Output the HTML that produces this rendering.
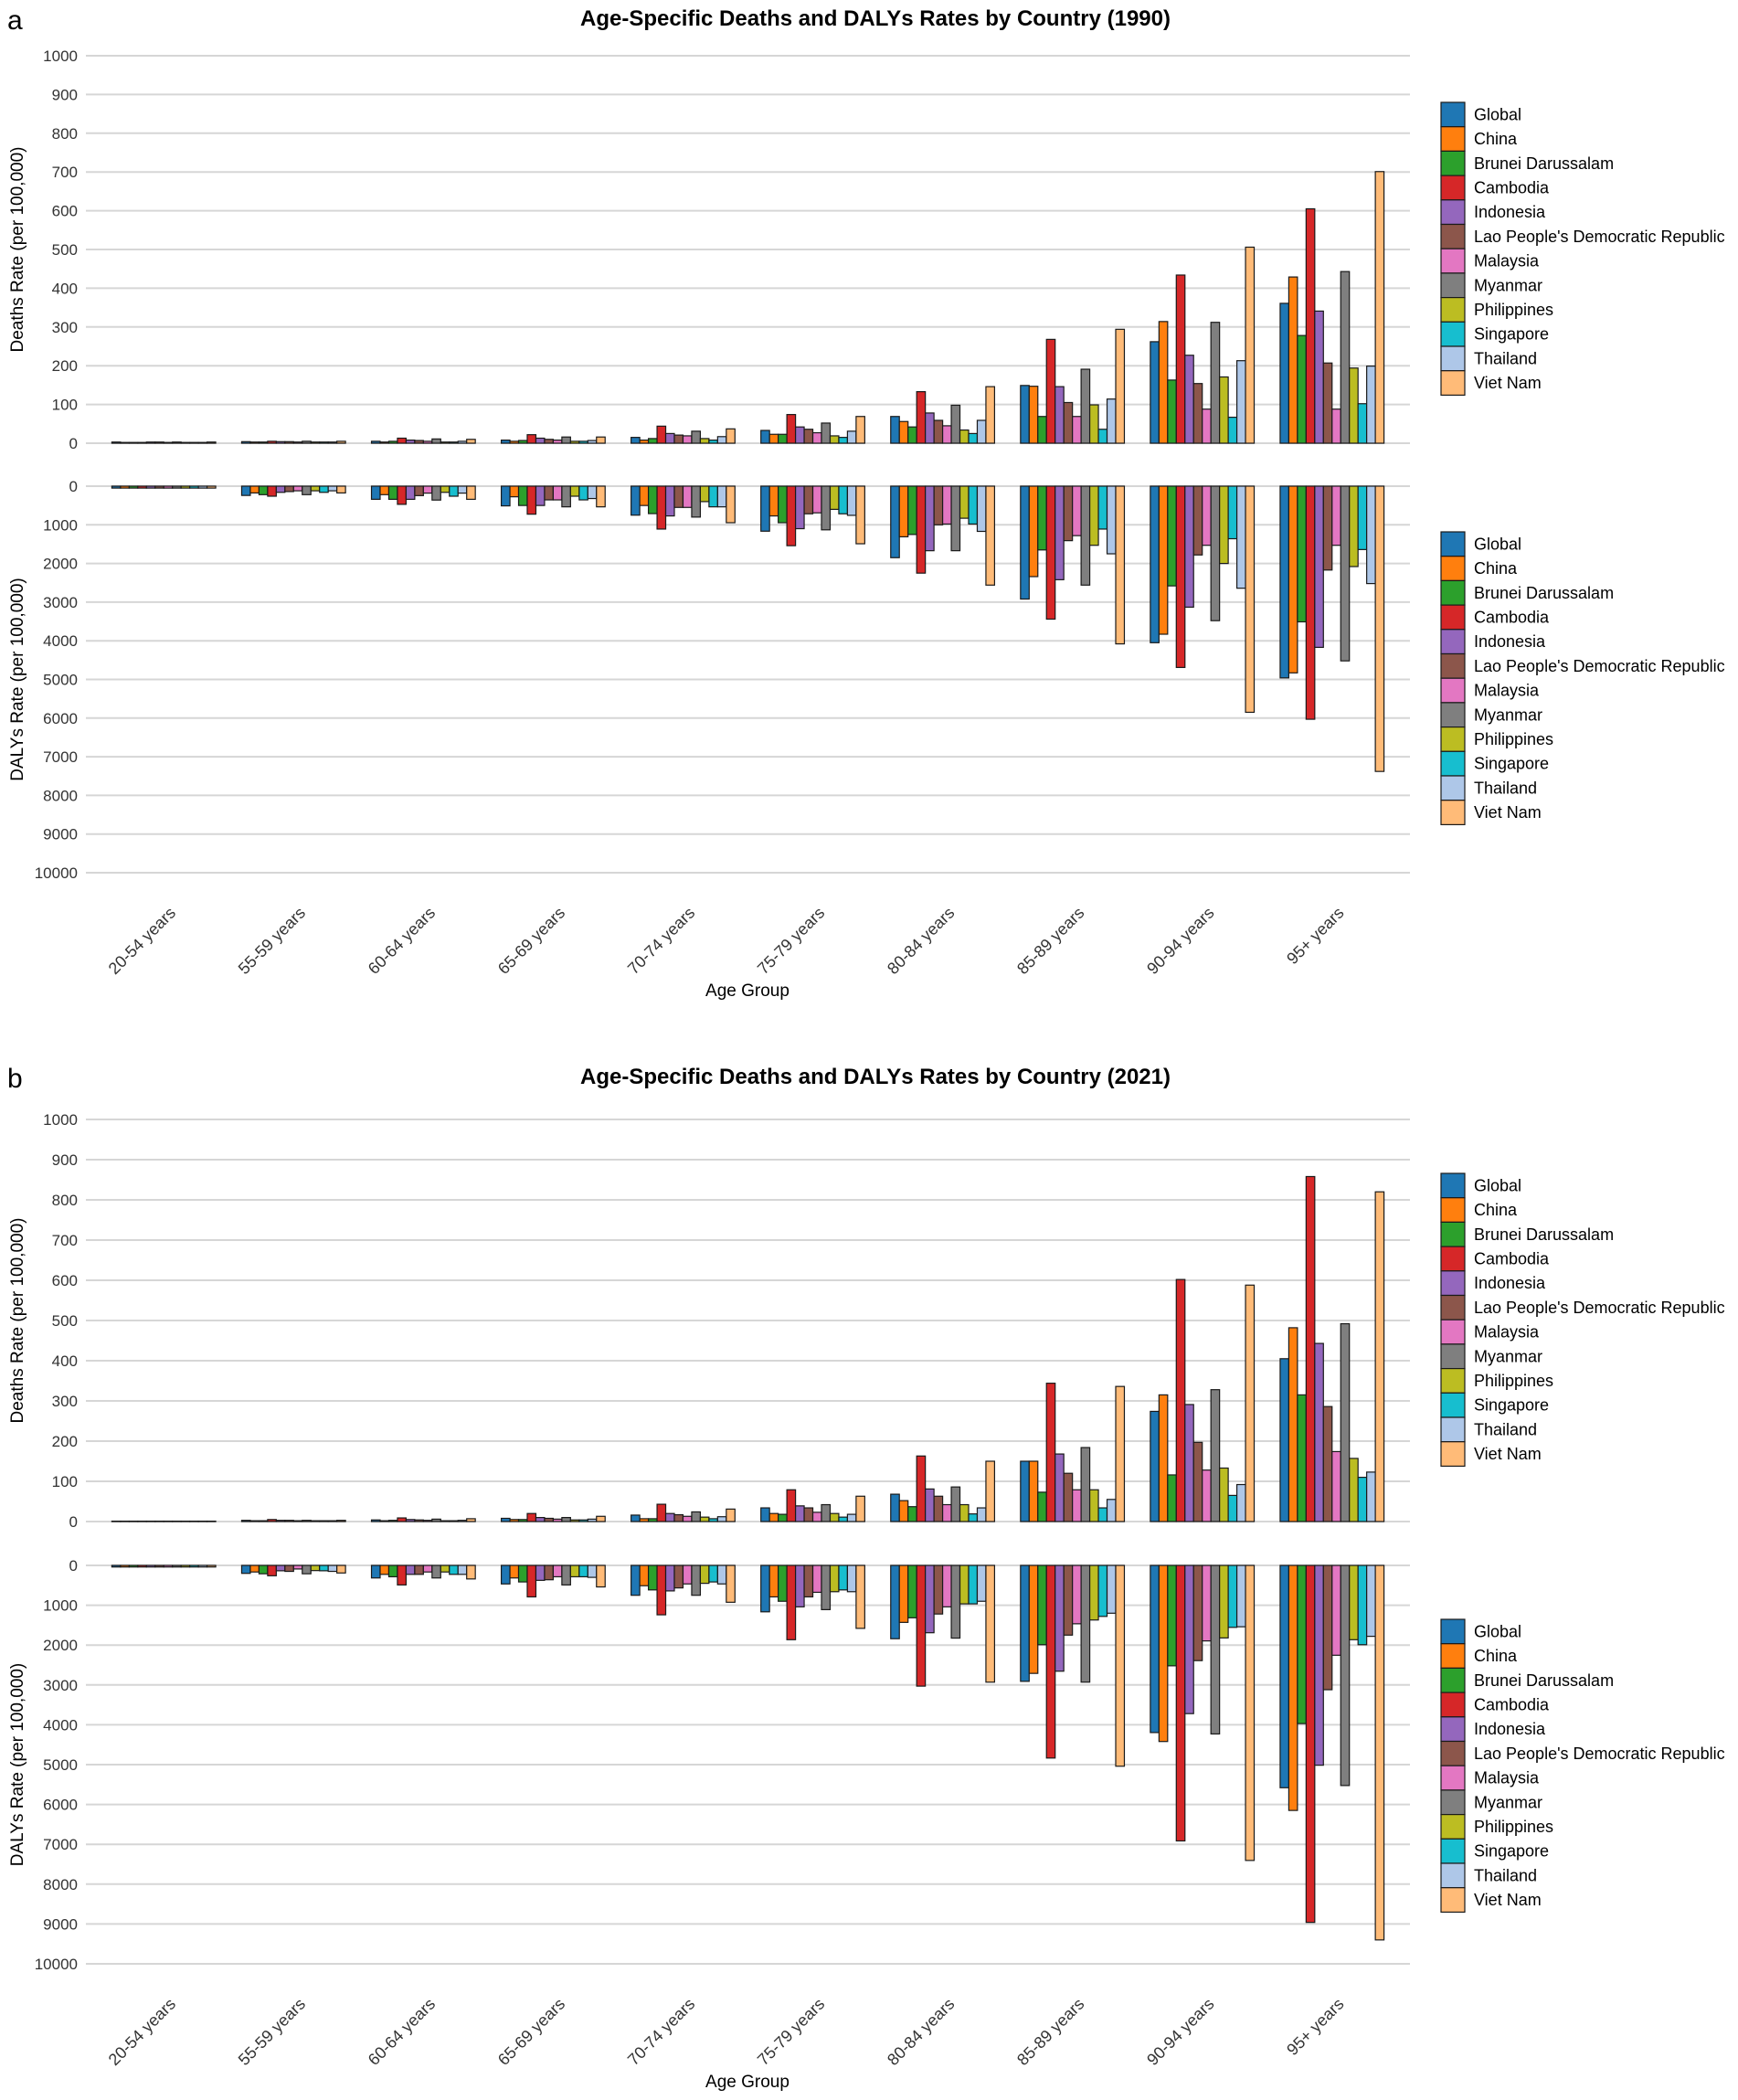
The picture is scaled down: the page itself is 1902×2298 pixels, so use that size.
<!DOCTYPE html>
<html><head><meta charset="utf-8"><style>
html,body{margin:0;padding:0;background:#fff;}
svg{display:block;font-family:"Liberation Sans",Arial,sans-serif;}
</style></head>
<body>
<svg id="chart" width="1902" height="2298" viewBox="0 0 1902 2298" xmlns="http://www.w3.org/2000/svg">
<rect width="1902" height="2298" fill="#fff"/>
</svg>
<script>
const ageGroups = ["20-54 years","55-59 years","60-64 years","65-69 years","70-74 years","75-79 years","80-84 years","85-89 years","90-94 years","95+ years"];
const countries = ["Global","China","Brunei Darussalam","Cambodia","Indonesia","Lao People's Democratic Republic","Malaysia","Myanmar","Philippines","Singapore","Thailand","Viet Nam"];
const colors = ["#1f77b4","#ff7f0e","#2ca02c","#d62728","#9467bd","#8c564b","#e377c2","#7f7f7f","#bcbd22","#17becf","#aec7e8","#ffbb78"];
const deathTicks = [0,100,200,300,400,500,600,700,800,900,1000];
const dalyTicks = [0,1000,2000,3000,4000,5000,6000,7000,8000,9000,10000];

// rows = age groups, cols = countries
const deaths1990 = [
 [3,2,2,2,3,3,2,3,2,2,2,3],
 [4,3,3,5,4,4,3,5,3,3,3,5],
 [5,3,5,13,8,7,5,11,3,3,5,10],
 [8,5,7,22,13,10,8,16,5,5,7,16],
 [15,8,12,44,25,21,19,31,12,8,17,37],
 [33,23,23,74,42,36,27,52,19,15,31,69],
 [69,56,42,133,78,59,45,98,34,25,59,146],
 [149,147,69,268,146,105,69,191,99,36,114,294],
 [262,314,163,434,227,154,88,312,171,67,213,506],
 [361,429,278,605,341,207,88,443,194,102,199,701]
];
const dalys1990 = [
 [50,50,50,50,50,50,50,50,50,50,50,50],
 [240,175,220,260,160,140,120,220,120,160,120,175],
 [340,220,340,470,340,245,180,360,160,260,180,340],
 [510,275,500,725,500,355,355,535,260,355,320,535],
 [750,500,710,1110,770,550,550,800,400,535,535,945],
 [1165,770,945,1540,1100,715,690,1130,600,715,755,1490],
 [1850,1310,1250,2250,1670,1000,980,1670,830,980,1170,2560],
 [2920,2340,1650,3440,2420,1410,1280,2560,1530,1110,1750,4080],
 [4050,3830,2580,4690,3130,1780,1530,3480,2000,1360,2640,5850],
 [4960,4830,3510,6030,4170,2170,1530,4520,2080,1640,2520,7380]
];
const deaths2021 = [
 [1,1,1,1,1,1,1,1,1,1,1,1],
 [3,2,2,5,3,3,2,3,2,2,2,3],
 [4,2,3,9,5,4,3,6,2,2,3,7],
 [8,5,5,20,10,8,6,10,4,4,6,13],
 [16,7,7,43,20,17,13,24,11,7,12,31],
 [34,20,18,79,39,34,23,42,20,11,18,63],
 [68,52,37,163,81,63,42,86,42,19,34,150],
 [150,150,73,344,168,120,79,184,79,34,55,336],
 [274,315,116,602,291,197,128,328,133,65,92,588],
 [405,482,315,858,443,286,174,492,157,110,123,820]
];
const dalys2021 = [
 [40,40,40,40,40,40,40,40,40,40,40,40],
 [200,165,210,260,135,150,90,210,130,135,150,190],
 [315,225,285,490,225,225,165,315,165,225,225,340],
 [465,315,415,790,375,360,285,490,285,285,300,540],
 [750,510,615,1240,640,565,465,750,450,415,465,925],
 [1165,790,900,1865,1040,790,675,1110,660,615,660,1580],
 [1840,1430,1315,3030,1690,1220,1040,1825,965,965,900,2930],
 [2910,2710,1990,4835,2655,1750,1465,2930,1370,1280,1200,5040],
 [4195,4420,2520,6915,3720,2390,1895,4230,1820,1555,1540,7405],
 [5580,6150,3970,8960,5015,3120,2255,5525,1865,1990,1780,9400]
];

const NS = "http://www.w3.org/2000/svg";
const svg = document.getElementById("chart");
function mk(tag, attrs, parent){
  const e = document.createElementNS(NS, tag);
  for (const k in attrs) e.setAttribute(k, attrs[k]);
  (parent||svg).appendChild(e);
  return e;
}
const X0 = 94, X1 = 1543;
const step = (X1 - X0) / (ageGroups.length - 1 + 1.2);
function xCenter(i){ return X0 + step * (0.6 + i); }
const groupW = step * 0.8, barW = groupW / countries.length;

function drawPanel(p){
  const g = mk("g", {});
  
  
  const lt = mk("text", {x:8, y:p.letterY, "font-size":30, fill:"#000"}, g);
  lt.textContent = p.letter;
  
  
  const tt = mk("text", {x:958, y:p.titleY, "font-size":24, "font-weight":"bold", "text-anchor":"middle", fill:"#000"}, g);
  tt.textContent = p.title;
  
  

  const yD = v => p.d0 - (v / 1000) * (p.d0 - p.d1000);
  const yL = v => p.l0 + (v / 10000) * (p.l10000 - p.l0);

  deathTicks.forEach(t => {
    const ln = mk("line", {x1:X0, x2:X1, y1:yD(t), y2:yD(t), stroke:"#d6d6d6", "stroke-width":2}, g);
    
    
    const tx = mk("text", {x:85, y:yD(t)+6, "font-size":17, "text-anchor":"end", fill:"#333"}, g);
    tx.textContent = t;
    
    
  });
  dalyTicks.forEach(t => {
    const ln = mk("line", {x1:X0, x2:X1, y1:yL(t), y2:yL(t), stroke:"#d6d6d6", "stroke-width":2}, g);
    
    
    const tx = mk("text", {x:85, y:yL(t)+6, "font-size":17, "text-anchor":"end", fill:"#333"}, g);
    tx.textContent = t;
    
    
  });
  const dmid = (p.d0 + p.d1000)/2, lmid = (p.l0 + p.l10000)/2;
  const at1 = mk("text", {x:0, y:0, "font-size":19, "text-anchor":"middle", fill:"#000", transform:`translate(25,${dmid}) rotate(-90)`}, g);
  at1.textContent = "Deaths Rate (per 100,000)";
  
  
  const at2 = mk("text", {x:0, y:0, "font-size":19, "text-anchor":"middle", fill:"#000", transform:`translate(25,${lmid}) rotate(-90)`}, g);
  at2.textContent = "DALYs Rate (per 100,000)";
  
  

  ageGroups.forEach((a, i) => {
    const gx = xCenter(i) - groupW/2;
    countries.forEach((c, j) => {
      const x = gx + j*barW;
      const dv = p.deaths[i][j];
      const r1 = mk("rect", {x:x, y:yD(dv), width:barW, height:Math.max(yD(0)-yD(dv),0.5), fill:colors[j], stroke:"#1a1a1a", "stroke-width":1.2}, g);
      
      
      const lv = p.dalys[i][j];
      const r2 = mk("rect", {x:x, y:yL(0), width:barW, height:Math.max(yL(lv)-yL(0),0.5), fill:colors[j], stroke:"#1a1a1a", "stroke-width":1.2}, g);
      
      
    });
    const lx = xCenter(i) + 14, ly = p.xlabY;
    const xl = mk("text", {x:0, y:0, "font-size":18, "text-anchor":"end", fill:"#333", transform:`translate(${lx},${ly}) rotate(-45)`}, g);
    xl.textContent = a;
    
    
  });
  const xt = mk("text", {x:818, y:p.xtitleY, "font-size":19, "text-anchor":"middle", fill:"#000"}, g);
  xt.textContent = "Age Group";
  
  

  [p.leg1, p.leg2].forEach(top => {
    const lg = mk("g", {}, g);
    
    
    const h = 26.7;
    countries.forEach((c, j) => {
      const r = mk("rect", {x:1577, y:top + j*h, width:26, height:h, fill:colors[j], stroke:"#1a1a1a", "stroke-width":1.2}, lg);
      
      
      const t = mk("text", {x:1613, y:top + j*h + h/2 + 6, "font-size":18, fill:"#000"}, lg);
      t.textContent = c;
      
      
    });
  });
}

drawPanel({name:"panel-a-1990", letter:"a", letterY:32, title:"Age-Specific Deaths and DALYs Rates by Country (1990)", titleY:28,
  d0:485, d1000:61, l0:532, l10000:955, deaths:deaths1990, dalys:dalys1990, xlabY:1000, xtitleY:1090, leg1:112, leg2:582});
drawPanel({name:"panel-b-2021", letter:"b", letterY:1190, title:"Age-Specific Deaths and DALYs Rates by Country (2021)", titleY:1186,
  d0:1665, d1000:1225, l0:1713, l10000:2149, deaths:deaths2021, dalys:dalys2021, xlabY:2194, xtitleY:2284, leg1:1284, leg2:1772});
</script>
</body></html>
